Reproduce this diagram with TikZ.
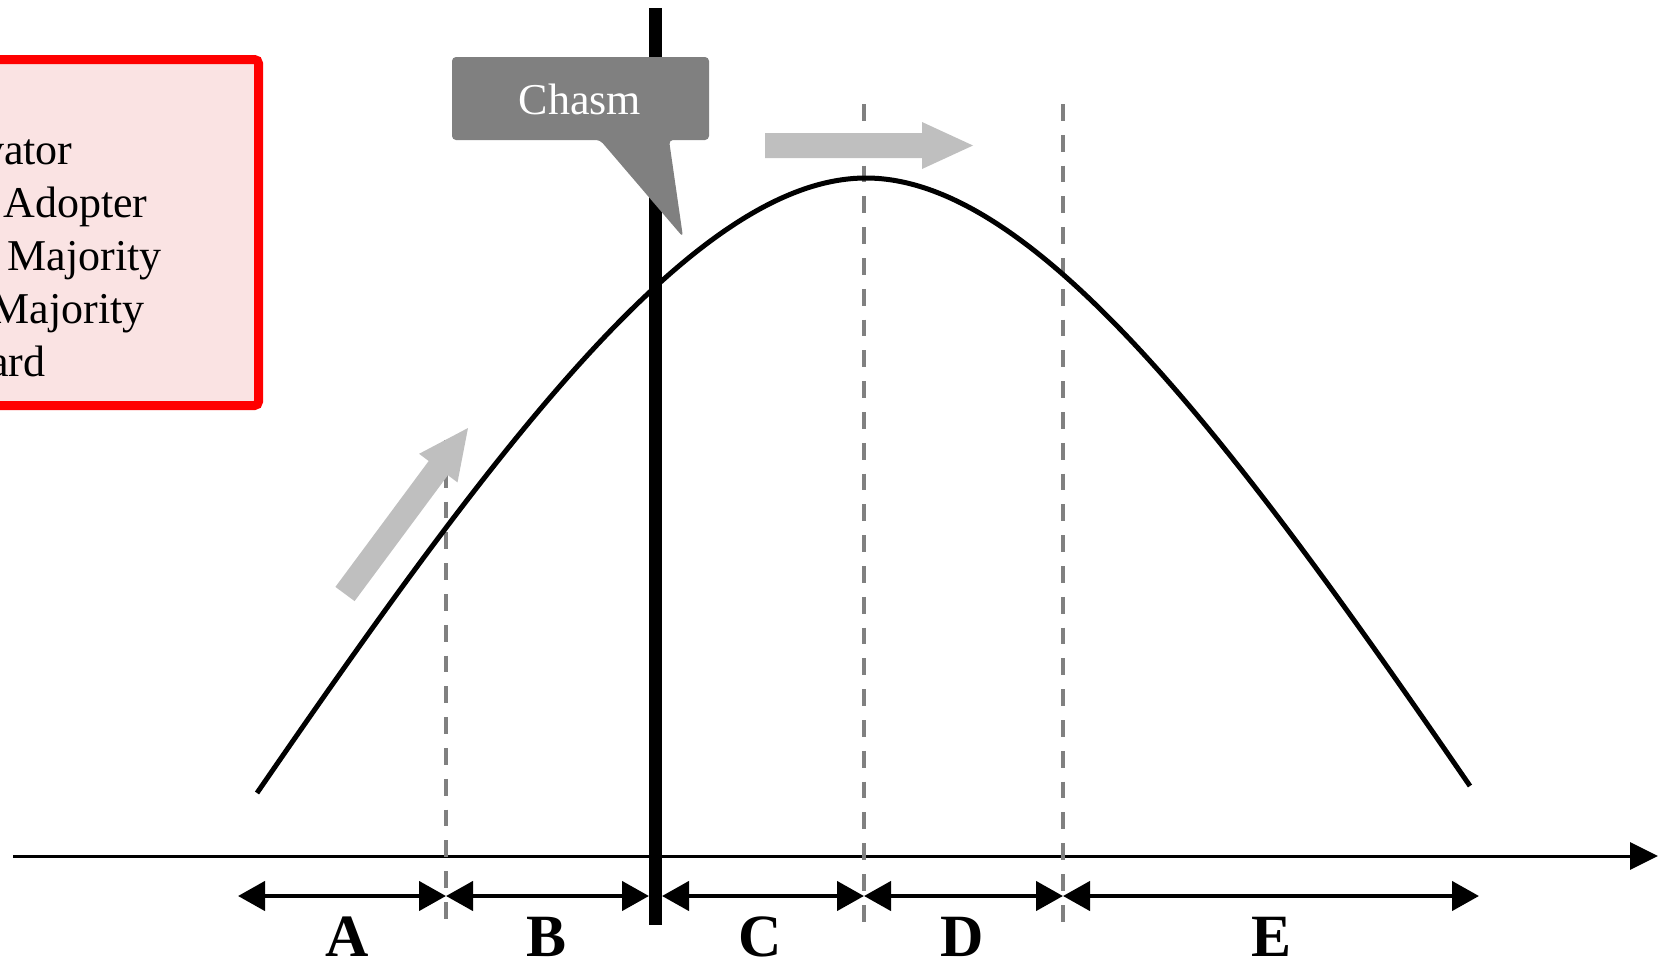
\documentclass[tikz,border=0pt]{standalone}
\usepackage{fontspec}
\setmainfont{Liberation Serif}
\usetikzlibrary{arrows.meta}
\definecolor{boxfill}{RGB}{250,227,227}
\definecolor{boxred}{RGB}{255,0,0}
\definecolor{callgray}{RGB}{128,128,128}
\definecolor{arrgray}{RGB}{191,191,191}
\definecolor{dashgray}{RGB}{128,128,128}
\begin{document}
\begin{tikzpicture}[x=0.5pt,y=-0.5pt,
  legendtext/.style={anchor=base east, inner sep=0pt, font=\fontsize{22pt}{26pt}\selectfont},
  letterlabel/.style={anchor=base, inner sep=0pt, font=\fontsize{30pt}{34pt}\selectfont\bfseries},
  dimarrow/.style={line width=2.2pt, {Triangle[length=13.5pt,width=14.5pt]}-{Triangle[length=13.5pt,width=14.5pt]}},
  divider/.style={dashgray, line width=1.9pt, dash pattern=on 8.4pt off 7pt},
  bigarrow/.style={fill=arrgray, draw=none},
  axisline/.style={line width=1.5pt, -{Triangle[length=14pt,width=13.5pt]}},
  bellcurve/.style={line width=2.5pt, line join=round},
  chasmbar/.style={line width=6.25pt},
  callout/.style={fill=callgray, rounded corners=2pt},
  legendbox/.style={draw=boxred, line width=4.5pt, fill=boxfill, rounded corners=2pt},
]
\clip (0,0) rectangle (1662,959);

% legend box
\path[legendbox] (-100,59.5) rectangle (258.5,405.5);
\node[legendtext] (l1) at (73,164) {vator};
\node[legendtext] (l2) at (148,217) {Adopter};
\node[legendtext] (l3) at (162,270) {Majority};
\node[legendtext] (l4) at (145,323) {Majority};
\node[legendtext] (l5) at (46,376) {ard};

% axis
\coordinate (axL) at (13,856);
\coordinate (axR) at (1658,856);
\draw[axisline] (axL) -- (axR);

% dashed dividers
\coordinate (d1t) at (446,440);  \coordinate (d1b) at (446,924);
\coordinate (d2t) at (864,104);  \coordinate (d2b) at (864,924);
\coordinate (d3t) at (1063,104); \coordinate (d3b) at (1063,924);
\draw[divider] (d1t) -- (d1b);
\draw[divider] (d2t) -- (d2b);
\draw[divider] (d3t) -- (d3b);

% bell curve
\coordinate (cL) at (257,793);
\coordinate (cP) at (866,178);
\coordinate (cR) at (1470,786);
\draw[bellcurve] (cL) .. controls (495,447) and (696,178) .. (cP)
  .. controls (1036,178) and (1237,447) .. (cR);

% chasm bar
\coordinate (bart) at (655.5,8);
\coordinate (barb) at (655.5,925);
\draw[chasmbar] (bart) -- (barb);

% callout
\path[callout] (452,57) -- (709,57) -- (709,140) -- (669,140) -- (683,237)
  -- (600,140) -- (452,140) -- cycle;
\node[anchor=base, inner sep=0pt, text=white, font=\fontsize{22pt}{26pt}\selectfont] (chasm) at (580,114) {Chasm};

% gray arrows
\path[bigarrow] (335.4,586.9) -- (428.7,461.0) -- (419.1,453.8) -- (468,428)
  -- (457.5,482.4) -- (447.9,475.2) -- (354.6,601.1) -- cycle;
\path[bigarrow] (765,133) -- (922,133) -- (922,122) -- (973,145.5)
  -- (922,169) -- (922,158) -- (765,158) -- cycle;

% dimension arrows
\coordinate (pA) at (238,896);
\coordinate (pAB) at (446,896);
\coordinate (pBbar) at (649,896);
\coordinate (pbarC) at (662,896);
\coordinate (pCD) at (864,896);
\coordinate (pDE) at (1063,896);
\coordinate (pE) at (1479,896);
\draw[dimarrow] (pA) -- (pAB);
\draw[dimarrow] (pAB) -- (pBbar);
\draw[dimarrow] (pbarC) -- (pCD);
\draw[dimarrow] (pCD) -- (pDE);
\draw[dimarrow] (pDE) -- (pE);

% letters
\node[letterlabel] (A) at (347,956) {A};
\node[letterlabel] (B) at (547,956) {B};
\node[letterlabel] (C) at (760,956) {C};
\node[letterlabel] (D) at (962,956) {D};
\node[letterlabel] (E) at (1272,956) {E};
\end{tikzpicture}
\end{document}
